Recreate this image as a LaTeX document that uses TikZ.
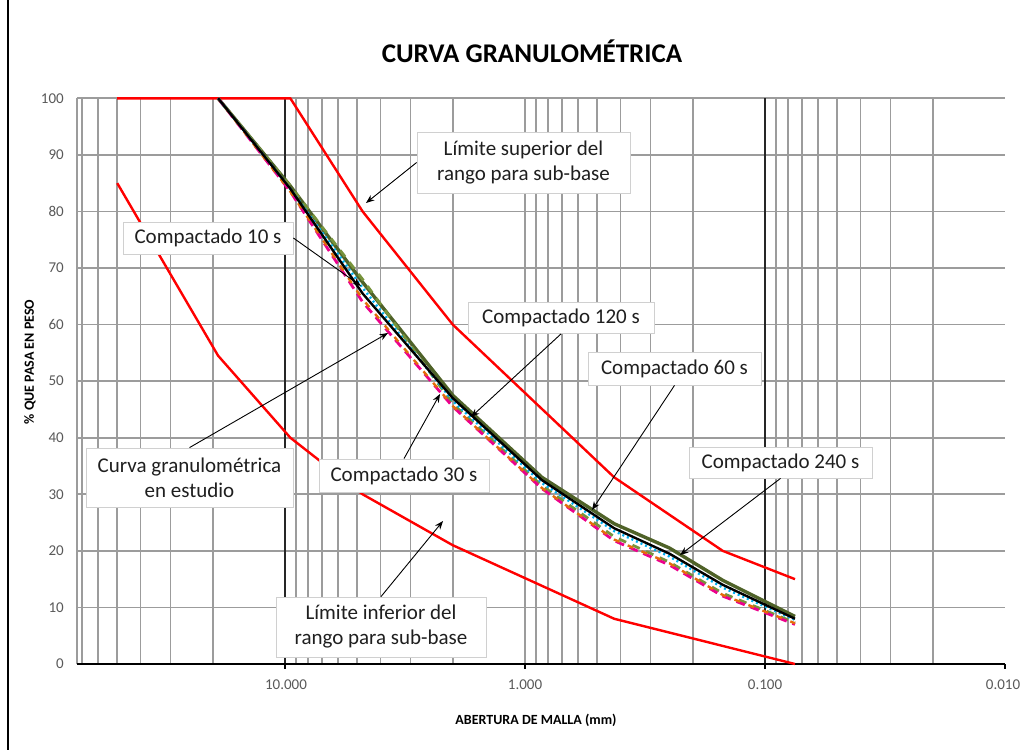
\documentclass[tikz,border=0pt]{standalone}
\usepackage{fontspec}
\setmainfont{Carlito}
\usetikzlibrary{arrows.meta}
\definecolor{gridgray}{HTML}{9C9C9C}
\definecolor{boxgray}{HTML}{D0D0D0}
\definecolor{ticktext}{HTML}{595959}
\definecolor{darkolive}{HTML}{4F6228}
\definecolor{olivegreen}{HTML}{77933C}
\definecolor{orangeline}{HTML}{E46C0A}
\definecolor{cyanline}{HTML}{00B0F0}
\tikzset{
  hgrid/.style={draw=gridgray, line width=1.7pt},
  vgrid/.style={draw=gridgray, line width=1.6pt},
  decade/.style={draw=black!85, line width=1.1pt},
  redline/.style={draw=red, line width=2.4pt, line join=round},
  lbl/.style={draw=boxgray, fill=white, line width=0.8pt, text=black!88,
    font=\fontsize{21}{25}\selectfont, align=center, inner sep=0pt},
  arr/.style={draw=black, line width=0.9pt, -{Stealth[length=8.5pt,width=6.5pt]}},
  ylbl/.style={anchor=east, text=ticktext, font=\fontsize{15}{18}\selectfont, inner sep=0pt},
  xlbl/.style={text=ticktext, font=\fontsize{15}{18}\selectfont, inner sep=0pt},
  axtitle/.style={font=\bfseries\fontsize{14}{16}\selectfont, inner sep=0pt}
}
\begin{document}
\begin{tikzpicture}[x=1pt,y=-1pt]
\useasboundingbox[fill=white] (0,0) rectangle (1028,750);
\draw[line width=1.5pt] (8,0) -- (8,750);
\node[font=\bfseries\fontsize{27}{32}\selectfont, anchor=base] (title) at (532,62) {CURVA GRANULOMÉTRICA};

\begin{scope}[shift={(525pt,-664pt)}, x={(-240pt,0pt)}, y={(0pt,5.657pt)}]
  % horizontal grid
  \foreach \p in {10,20,...,100} \draw[hgrid] (1.8667,\p) -- (-2,\p);
  % vertical minor grid
  \foreach \d in {-2,-1,0} \foreach \m in {2,...,9}
    \draw[vgrid] ({\d+log10(\m)},0) -- ({\d+log10(\m)},100);
  \foreach \m in {2,...,7}
    \draw[vgrid] ({1+log10(\m)},0) -- ({1+log10(\m)},100);
  \draw[vgrid] (1.8667,0) -- (1.8667,100);
  \draw[vgrid] (0,0) -- (0,100);
  \draw[decade] (1,0) -- (1,100);
  \draw[decade] (-1,0) -- (-1,100);
  % x axis
  \draw[line width=2.2pt] (1.8667,0) -- (-2,0);
  \foreach \d in {1,0,-1,-2} \draw[line width=1.6pt] (\d,0) -- ++(0pt,-5pt);
  % limits
  \draw[redline] plot coordinates {(1.69897,100) (0.97772,100) (0.67669,80) (0.30103,60) (-0.37161,33) (-0.82391,20) (-1.12494,15)};
  \draw[redline] plot coordinates {(1.69897,85) (1.27875,54.5) (0.97772,40) (0.67669,30) (0.30103,21) (-0.37161,8) (-1.12494,0)};
  % data series
  \draw[darkolive, line width=3.4pt, line join=round] plot coordinates {(1.27875,100) (0.97772,84.5) (0.67669,67.5) (0.30103,47.5) (-0.07058,33) (-0.37161,24.8) (-0.60206,20.5) (-0.82391,14.8) (-1.12494,8.4)};
  \draw[olivegreen, line width=2.8pt, dash pattern=on 8pt off 7pt] plot coordinates {(1.27875,100) (0.97772,84.5) (0.67669,68) (0.30103,46) (-0.07058,31.5) (-0.37161,22.5) (-0.60206,18) (-0.82391,12.5) (-1.12494,7.3)};
  \draw[magenta, line width=2.8pt, dash pattern=on 9pt off 6pt] plot coordinates {(1.27875,100) (0.97772,83.5) (0.67669,64) (0.30103,45.5) (-0.07058,31) (-0.37161,21.8) (-0.60206,17.5) (-0.82391,12) (-1.12494,7)};
  \draw[orangeline, line width=2.4pt, dash pattern=on 6pt off 9pt, dash phase=3pt] plot coordinates {(1.27875,100) (0.97772,83.5) (0.67669,64.5) (0.30103,45.6) (-0.07058,31.1) (-0.37161,22) (-0.60206,17.8) (-0.82391,12.2) (-1.12494,7.2)};
  \draw[cyanline, line width=2.4pt, dash pattern=on 2pt off 3pt] plot coordinates {(1.27875,100) (0.97772,84) (0.67669,66.5) (0.30103,46.5) (-0.07058,32) (-0.37161,23.5) (-0.60206,19) (-0.82391,13.5) (-1.12494,7.8)};
  \draw[black, line width=2.4pt, line join=round] plot coordinates {(1.27875,100) (0.97772,84) (0.67669,65.5) (0.30103,47) (-0.07058,32.5) (-0.37161,24) (-0.60206,19.5) (-0.82391,14) (-1.12494,8)};
\end{scope}

% tick labels
\foreach \p in {0,10,...,100} {
  \pgfmathsetmacro\yy{664-5.657*\p}
  \node[ylbl] (y\p) at (64,\yy) {\p};
}
\node[xlbl] (x10) at (286,685) {10.000};
\node[xlbl] (x1) at (525,685) {1.000};
\node[xlbl] (x01) at (765,685) {0.100};
\node[xlbl] (x001) at (1003,685) {0.010};

% axis titles
\node[axtitle, rotate=90] (ytitle) at (30,362) {\% QUE PASA EN PESO};
\node[axtitle] (xtitle) at (536,720) {ABERTURA DE MALLA (mm)};

% labels
\node[lbl, minimum width=170pt, minimum height=32pt] (l10) at (208,238) {Compactado 10 s};
\node[lbl, minimum width=207pt, minimum height=59pt] (lcg) at (189.5,477.5) {Curva granulométrica\\en estudio};
\node[lbl, minimum width=170pt, minimum height=33pt] (l30) at (404,475.5) {Compactado 30 s};
\node[lbl, minimum width=186pt, minimum height=31pt] (l120) at (561,318) {Compactado 120 s};
\node[lbl, minimum width=173pt, minimum height=33pt] (l60) at (674.5,368.5) {Compactado 60 s};
\node[lbl, minimum width=183pt, minimum height=31pt] (l240) at (780.5,462.5) {Compactado 240 s};
\node[lbl, minimum width=213pt, minimum height=61pt] (lsup) at (523.5,162.5) {Límite superior del\\rango para sub-base};
\node[lbl, minimum width=210pt, minimum height=60pt] (linf) at (381,627) {Límite inferior del\\rango para sub-base};

% arrow targets
\coordinate (t10) at (361,286);
\coordinate (tcg) at (388,333);
\coordinate (t30) at (440,394);
\coordinate (t120) at (471,417);
\coordinate (t60) at (592,510);
\coordinate (t240) at (680,555);
\coordinate (tsup) at (366,203);
\coordinate (tinf) at (443,521);

\draw[arr] (l10.east) -- (t10);
\draw[arr] (lcg.north) -- (tcg);
\draw[arr] (l30.north) -- (t30);
\draw[arr] (l120.south) -- (t120);
\draw[arr] (l60.south) -- (t60);
\draw[arr] (l240.south) -- (t240);
\draw[arr] (lsup.west) -- (tsup);
\draw[arr] (linf.north) -- (tinf);
\end{tikzpicture}
\end{document}
